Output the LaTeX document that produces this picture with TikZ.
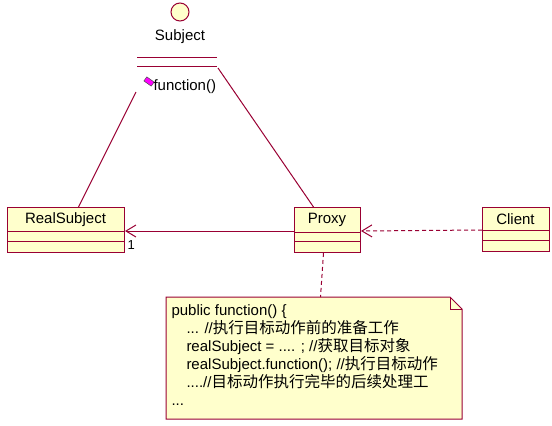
\documentclass[tikz,border=0pt]{standalone}
\usepackage{fontspec}
\setmainfont{Liberation Sans}
\newfontfamily\cjk{Noto Sans CJK SC}
\usetikzlibrary{arrows.meta,calc}
\definecolor{umlline}{HTML}{990033}
\definecolor{umlfill}{HTML}{FFFFCC}
\definecolor{opmark}{HTML}{FF00FF}
\newcommand{\zh}[1]{{\cjk\fontsize{15.5}{18}\selectfont #1}}
\begin{document}
\begin{tikzpicture}[x=1pt,y=-1pt,
  font=\fontsize{15}{18}\selectfont,
  every path/.style={line width=1pt},
  cls/.style={draw=umlline, fill=umlfill, minimum height=45pt, inner sep=0pt, anchor=north west},
  lbl/.style={inner sep=0pt, text=black},
  txt/.style={inner sep=0pt, anchor=base west, text=black},
  assoc/.style={draw=umlline},
  dep/.style={draw=umlline, dash pattern=on 4pt off 3pt},
  openhead/.style={-{Straight Barb[length=10pt,width=12pt,line width=1pt]}}
]
\useasboundingbox (0,0) rectangle (552,426);

% Subject interface
\node[circle, draw=umlline, fill=umlfill, minimum size=18pt, inner sep=0pt] (subj) at (180,12) {};
\node[lbl] (subjname) at (180,37) {Subject};
\coordinate (subl1) at (137,57);
\coordinate (subr1) at (217,57);
\coordinate (subl2) at (137,66);
\coordinate (subr2) at (217,66);
\draw[umlline] (subl1) -- (subr1);
\draw[umlline] (subl2) -- (subr2);
\node[draw=black!70, line width=0.5pt, fill=opmark, minimum width=9pt, minimum height=5pt, inner sep=0pt, rotate=-35] (opicon) at (149,81.5) {};
\node[txt] (subjop) at (153,90) {function()};
\coordinate (sl) at (136,92);
\coordinate (sr) at (218,68);

% classes
\node[cls, minimum width=117pt] (rs) at (7,207) {};
\node[lbl] (rsname) at (65.5,219.5) {RealSubject};
\draw[umlline] ($(rs.north west)+(0,24)$) -- ($(rs.north east)+(0,24)$);
\draw[umlline] ($(rs.north west)+(0,34)$) -- ($(rs.north east)+(0,34)$);

\node[cls, minimum width=66pt] (px) at (294,207) {};
\node[lbl] (pxname) at (327,219.5) {Proxy};
\draw[umlline] ($(px.north west)+(0,25)$) -- ($(px.north east)+(0,25)$);
\draw[umlline] ($(px.north west)+(0,34)$) -- ($(px.north east)+(0,34)$);

\node[cls, minimum width=67pt, minimum height=44pt] (cl) at (482,207) {};
\node[lbl] (clname) at (515.5,219) {Client};
\draw[umlline] ($(cl.north west)+(0,23)$) -- ($(cl.north east)+(0,23)$);
\draw[umlline] ($(cl.north west)+(0,33)$) -- ($(cl.north east)+(0,33)$);

% realization lines
\draw[assoc] (sl) -- ($(rs.north)+(12.5,0)$);
\draw[assoc] (sr) -- ($(px.north)+(-14,0)$);

% association Proxy -> RealSubject
\draw[assoc, openhead] ($(px.north west)+(0,24)$) -- ($(rs.north east)+(0,24)$);
\node[lbl, anchor=base west] (mult) at (127,249) {\fontsize{13}{15}\selectfont 1};

% dependency Client -> Proxy
\draw[dep, openhead] ($(cl.north west)+(0,23)$) -- ($(px.north east)+(0,24)$);

% note
\node[minimum width=295pt, minimum height=121pt, inner sep=0pt, anchor=north west] (note) at (166,297) {};
\fill[umlfill] (note.north west) -- ($(note.north east)+(-12,0)$) -- ($(note.north east)+(0,12)$) -- (note.south east) -- (note.south west) -- cycle;
\draw[umlline] (note.north west) -- ($(note.north east)+(-12,0)$) -- ($(note.north east)+(0,12)$) -- (note.south east) -- (note.south west) -- cycle;
\draw[umlline, line width=0.6pt] ($(note.north east)+(-12,0)$) -- ($(note.north east)+(-12,12)$) -- ($(note.north east)+(0,12)$);
\draw[dep] ($(px.south)+(-4,0)$) -- ($(note.north)+(6.5,0)$);

\node[txt] (n1) at (171,315) {public function() \{};
\node[txt] (n2) at (186,333) {... //\zh{执行目标动作前的准备工作}};
\node[txt] (n3) at (186,351) {realSubject = .... ; //\zh{获取目标对象}};
\node[txt] (n4) at (186,369) {realSubject.function(); //\zh{执行目标动作}};
\node[txt] (n5) at (186,387) {....//\zh{目标动作执行完毕的后续处理工}};
\node[txt] (n6) at (171,405) {...};
\end{tikzpicture}
\end{document}
